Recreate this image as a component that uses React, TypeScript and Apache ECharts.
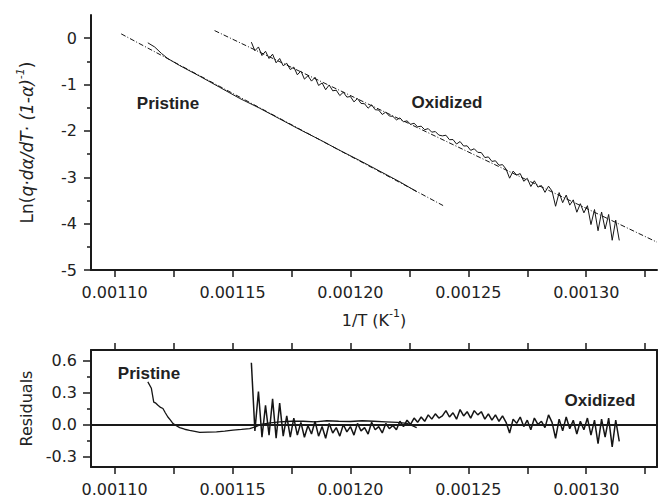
import React, { useEffect, useRef } from 'react';
import * as echarts from 'echarts';

// ---------- axis ticks / labels ----------
const xTickValues = [0.0011, 0.001125, 0.00115, 0.001175, 0.0012, 0.001225, 0.00125, 0.001275, 0.0013, 0.001325];
const xLabelValues = [0.0011, 0.00115, 0.0012, 0.00125, 0.0013];
const topYMajor = [-5, -4, -3, -2, -1, 0];
const topYMinor = [-4.5, -3.5, -2.5, -1.5, -0.5];
const resYMajor = [-0.3, 0, 0.3, 0.6];
const resYMinor = [-0.15, 0.15, 0.45];

// ---------- Pristine (top panel) ----------
const pristineX = [0.0011141, 0.001117, 0.0011199, 0.0011226, 0.0011276, 0.0011361, 0.0011446, 0.0011531, 0.0011615, 0.00117, 0.0011785, 0.001187, 0.0011955, 0.001204, 0.0012125, 0.001221, 0.0012281];
const pristineY = [-0.1, -0.19, -0.33, -0.44, -0.59, -0.82, -1.06, -1.3, -1.51, -1.74, -1.97, -2.19, -2.42, -2.64, -2.87, -3.1, -3.31];
const pristineFitX = [0.0011028, 0.0012393];
const pristineFitY = [0.093, -3.61];

// ---------- Oxidized (top panel) ----------
const oxidizedX = [
  0.001158, 0.0011595, 0.001161, 0.0011625, 0.001164, 0.0011655, 0.001167, 0.0011685, 0.00117, 0.0011715,
  0.001173, 0.0011745, 0.001176, 0.0011775, 0.001179, 0.0011805, 0.001182, 0.0011835, 0.001185, 0.0011865,
  0.001188, 0.0011895, 0.001191, 0.0011925, 0.001194, 0.0011955, 0.001197, 0.0011985, 0.0012, 0.0012015,
  0.001203, 0.0012045, 0.001206, 0.0012075, 0.001209, 0.0012105, 0.001212, 0.0012135, 0.001215, 0.0012165,
  0.001218, 0.0012195, 0.001221, 0.0012225, 0.001224, 0.0012255, 0.001227, 0.0012285, 0.00123, 0.0012315,
  0.001233, 0.0012345, 0.001236, 0.0012375, 0.001239, 0.0012405, 0.001242, 0.0012435, 0.001245, 0.0012465,
  0.001248, 0.0012495, 0.001251, 0.0012525, 0.001254, 0.0012555, 0.001257, 0.0012585, 0.00126, 0.0012615,
  0.001263, 0.0012645, 0.001266, 0.0012675, 0.001269, 0.0012705, 0.001272, 0.0012735, 0.001275, 0.0012765,
  0.001278, 0.0012795, 0.001281, 0.0012825, 0.001284, 0.0012855, 0.001287, 0.0012885, 0.00129, 0.0012915,
  0.001293, 0.0012945, 0.001296, 0.0012975, 0.001299, 0.0013005, 0.001302, 0.0013035, 0.001305, 0.0013065,
  0.001308, 0.0013095, 0.001311, 0.0013125, 0.001314,
];
const oxidizedY = [
  -0.086, -0.272, -0.189, -0.375, -0.282, -0.438, -0.345, -0.531, -0.438, -0.594,
  -0.541, -0.677, -0.624, -0.79, -0.707, -0.883, -0.81, -0.926, -0.843, -1.019,
  -0.966, -1.112, -1.009, -1.135, -1.122, -1.238, -1.165, -1.271, -1.258, -1.374,
  -1.301, -1.407, -1.414, -1.51, -1.437, -1.543, -1.55, -1.646, -1.593, -1.679,
  -1.686, -1.762, -1.719, -1.805, -1.782, -1.858, -1.835, -1.911, -1.898, -1.974,
  -1.951, -2.027, -2.014, -2.09, -2.107, -2.093, -2.19, -2.186, -2.283, -2.229,
  -2.326, -2.322, -2.419, -2.385, -2.462, -2.468, -2.575, -2.561, -2.658, -2.644,
  -2.741, -2.727, -2.824, -3.02, -2.867, -2.953, -2.92, -3.086, -3.023, -3.199,
  -3.076, -3.212, -3.179, -3.325, -3.192, -3.298, -3.625, -3.331, -3.548, -3.384,
  -3.601, -3.487, -3.754, -3.57, -3.767, -3.613, -4.02, -3.696, -4.153, -3.749,
  -4.116, -3.802, -4.359, -3.925, -4.362,
];
const oxidizedFitX = [0.0011424, 0.00133];
const oxidizedFitY = [0.164, -4.4];

// ---------- Residuals (bottom panel) ----------
const pristineResX = [
  0.0011141, 0.0011156, 0.0011166, 0.0011175, 0.0011184, 0.0011195, 0.0011205, 0.0011215, 0.0011226, 0.0011237,
  0.0011247, 0.001126, 0.0011276, 0.0011297, 0.0011318, 0.001134, 0.0011361, 0.0011396, 0.0011432, 0.0011467,
  0.0011502, 0.0011538, 0.0011573, 0.00116, 0.001162, 0.001166, 0.00117, 0.001175, 0.00118, 0.001185,
  0.00119, 0.001195, 0.0012, 0.001205, 0.00121, 0.001215, 0.00122, 0.001224, 0.001226, 0.0012281,
];
const pristineRes = [
  0.4, 0.34, 0.21, 0.2, 0.18, 0.16, 0.15, 0.11, 0.07, 0.04,
  0.01, -0.01, -0.03, -0.045, -0.055, -0.065, -0.075, -0.072, -0.07, -0.062,
  -0.053, -0.047, -0.04, -0.02, 0.0, 0.015, 0.025, 0.03, 0.03, 0.025,
  0.035, 0.03, 0.028, 0.035, 0.03, 0.025, 0.02, 0.01, -0.01, -0.03,
];
const oxidizedRes = [
  0.58, -0.06, 0.31, -0.12, 0.18, -0.1, 0.24, -0.13, 0.2, -0.11,
  0.08, -0.12, 0.06, -0.1, 0.02, -0.12, -0.01, -0.09, 0.03, -0.11,
  -0.02, -0.13, 0.01, -0.08, -0.03, -0.11, 0.0, -0.07, -0.02, -0.1,
  0.01, -0.06, -0.03, -0.09, 0.02, -0.05, -0.02, -0.08, 0.01, -0.04,
  -0.01, -0.05, 0.03, -0.02, 0.04, 0.0, 0.06, 0.02, 0.07, 0.03,
  0.09, 0.05, 0.1, 0.06, 0.08, 0.13, 0.07, 0.11, 0.05, 0.14,
  0.08, 0.12, 0.06, 0.13, 0.09, 0.12, 0.05, 0.1, 0.04, 0.09,
  0.03, 0.08, 0.02, -0.08, 0.05, 0.01, 0.07, -0.02, 0.04, -0.05,
  0.06, 0.0, 0.03, -0.03, 0.09, 0.02, -0.13, 0.05, -0.06, 0.07,
  -0.04, 0.04, -0.09, 0.03, -0.05, 0.06, -0.1, 0.04, -0.18, 0.05,
  -0.12, 0.06, -0.21, 0.04, -0.16,
];

const zip = (xs: number[], ys: number[]) => xs.map((x, i) => [x, ys[i]]);

const AXIS = '#1a1a1a';
const TEXT = '#222';
const FONT = 'DejaVu Sans';
const INK = '#151515';

function buildOption() {
  const tickLabel = (fmt: (v: number) => string, values: number[]) => ({
    customValues: values,
    formatter: fmt,
    margin: 14,
    color: TEXT,
    fontFamily: FONT,
    fontSize: 16,
  });
  const axisLine = { show: true, onZero: false, lineStyle: { color: AXIS, width: 2 } };
  const richTitle = (size: number) => ({
    color: TEXT,
    fontFamily: FONT,
    fontSize: size,
    rich: {
      n: { fontFamily: FONT, fontSize: size, color: TEXT, lineHeight: 24, verticalAlign: 'middle' },
      i: { fontFamily: FONT, fontSize: size, color: TEXT, fontStyle: 'italic', lineHeight: 24, verticalAlign: 'middle' },
      s: { fontFamily: FONT, fontSize: 11, color: TEXT, fontStyle: 'italic', lineHeight: 12, verticalAlign: 'top' },
      p: { fontFamily: FONT, fontSize: 11, color: TEXT, lineHeight: 12, verticalAlign: 'top' },
    },
  });
  const dashDot = { color: INK, width: 1, type: [5, 2, 1, 2] };

  return {
    animation: false,
    backgroundColor: '#fff',
    grid: [
      { left: 91, top: 15, width: 566, height: 255 },
      { left: 91, top: 350, width: 566, height: 117 },
    ],
    xAxis: [
      {
        type: 'value', gridIndex: 0, min: 0.00109, max: 0.00133, position: 'bottom',
        axisLine,
        axisTick: { show: true, customValues: xTickValues, length: 7, lineStyle: { color: AXIS, width: 1.5 } },
        axisLabel: tickLabel((v: number) => v.toFixed(5), xLabelValues),
        splitLine: { show: false },
        name: '{n|1/T (K}{p|-1}{n|)}',
        nameLocation: 'middle',
        nameGap: 38,
        nameTextStyle: richTitle(16),
      },
      {
        type: 'value', gridIndex: 1, min: 0.00109, max: 0.00133, position: 'bottom',
        axisLine,
        axisTick: { show: true, customValues: xTickValues, length: 7, lineStyle: { color: AXIS, width: 1.5 } },
        axisLabel: tickLabel((v: number) => v.toFixed(5), xLabelValues),
        splitLine: { show: false },
      },
      {
        type: 'value', gridIndex: 1, min: 0.00109, max: 0.00133, position: 'top',
        axisLine,
        axisTick: { show: true, customValues: xTickValues, length: 7, lineStyle: { color: AXIS, width: 1.5 } },
        axisLabel: { show: false },
        splitLine: { show: false },
      },
    ],
    yAxis: [
      {
        type: 'value', gridIndex: 0, min: -5, max: 0.5, position: 'left',
        axisLine,
        axisTick: { show: true, customValues: topYMajor, length: 7, lineStyle: { color: AXIS, width: 1.5 } },
        axisLabel: tickLabel((v: number) => String(Math.round(v)), topYMajor),
        splitLine: { show: false },
        name: '{n|Ln(}{i|q·dα/dT· (1-α)}{s|-1}{n|)}',
        nameLocation: 'middle',
        nameGap: 52,
        nameTextStyle: richTitle(17),
      },
      {
        type: 'value', gridIndex: 0, min: -5, max: 0.5, position: 'left',
        axisLine: { show: false, onZero: false },
        axisTick: { show: true, customValues: topYMinor, length: 4, lineStyle: { color: AXIS, width: 1.5 } },
        axisLabel: { show: false },
        splitLine: { show: false },
      },
      {
        type: 'value', gridIndex: 1, min: -0.4, max: 0.7, position: 'left',
        axisLine,
        axisTick: { show: true, customValues: resYMajor, length: 8, lineStyle: { color: AXIS, width: 1.5 } },
        axisLabel: tickLabel((v: number) => v.toFixed(1), resYMajor),
        splitLine: { show: false },
        name: 'Residuals',
        nameLocation: 'middle',
        nameGap: 56,
        nameTextStyle: { color: TEXT, fontFamily: FONT, fontSize: 16 },
      },
      {
        type: 'value', gridIndex: 1, min: -0.4, max: 0.7, position: 'left',
        axisLine: { show: false, onZero: false },
        axisTick: { show: true, customValues: resYMinor, length: 4, lineStyle: { color: AXIS, width: 1.5 } },
        axisLabel: { show: false },
        splitLine: { show: false },
      },
      {
        type: 'value', gridIndex: 1, min: -0.4, max: 0.7, position: 'right',
        axisLine,
        axisTick: { show: false },
        axisLabel: { show: false },
        splitLine: { show: false },
      },
    ],
    series: [
      {
        type: 'line', xAxisIndex: 0, yAxisIndex: 0, data: zip(pristineFitX, pristineFitY),
        symbol: 'none', lineStyle: dashDot, silent: true,
      },
      {
        type: 'line', xAxisIndex: 0, yAxisIndex: 0, data: zip(pristineX, pristineY),
        symbol: 'none', lineStyle: { color: INK, width: 1 }, silent: true,
      },
      {
        type: 'line', xAxisIndex: 0, yAxisIndex: 0, data: zip(oxidizedFitX, oxidizedFitY),
        symbol: 'none', lineStyle: dashDot, silent: true,
      },
      {
        type: 'line', xAxisIndex: 0, yAxisIndex: 0, data: zip(oxidizedX, oxidizedY),
        symbol: 'none', lineStyle: { color: INK, width: 1 }, silent: true,
      },
      {
        type: 'line', xAxisIndex: 1, yAxisIndex: 2, data: zip(pristineResX, pristineRes),
        symbol: 'none', lineStyle: { color: INK, width: 1.3 }, silent: true,
        markLine: {
          silent: true, symbol: ['none', 'none'], label: { show: false },
          lineStyle: { color: AXIS, width: 2, type: 'solid' },
          data: [{ yAxis: 0 }],
        },
      },
      {
        type: 'line', xAxisIndex: 1, yAxisIndex: 2, data: zip(oxidizedX, oxidizedRes),
        symbol: 'none', lineStyle: { color: INK, width: 1.5 }, silent: true,
      },
    ],
    graphic: [
      { type: 'text', x: 168, y: 103, style: { text: 'Pristine', fill: TEXT, font: 'bold 17px "Liberation Sans"', align: 'center', verticalAlign: 'middle' } },
      { type: 'text', x: 447, y: 102, style: { text: 'Oxidized', fill: TEXT, font: 'bold 17px "Liberation Sans"', align: 'center', verticalAlign: 'middle' } },
      { type: 'text', x: 149, y: 373, style: { text: 'Pristine', fill: TEXT, font: 'bold 17px "Liberation Sans"', align: 'center', verticalAlign: 'middle' } },
      { type: 'text', x: 600, y: 400, style: { text: 'Oxidized', fill: TEXT, font: 'bold 17px "Liberation Sans"', align: 'center', verticalAlign: 'middle' } },
    ],
  };
}

export default function App() {
  const ref = useRef<HTMLDivElement>(null);
  useEffect(() => {
    if (!ref.current) return;
    const chart = echarts.init(ref.current, undefined, { renderer: 'svg' });
    chart.setOption(buildOption() as any);
    return () => chart.dispose();
  }, []);
  return (
    <div
      ref={ref}
      style={{ position: 'fixed', left: 0, top: 0, width: 658, height: 499, background: '#fff' }}
    />
  );
}
